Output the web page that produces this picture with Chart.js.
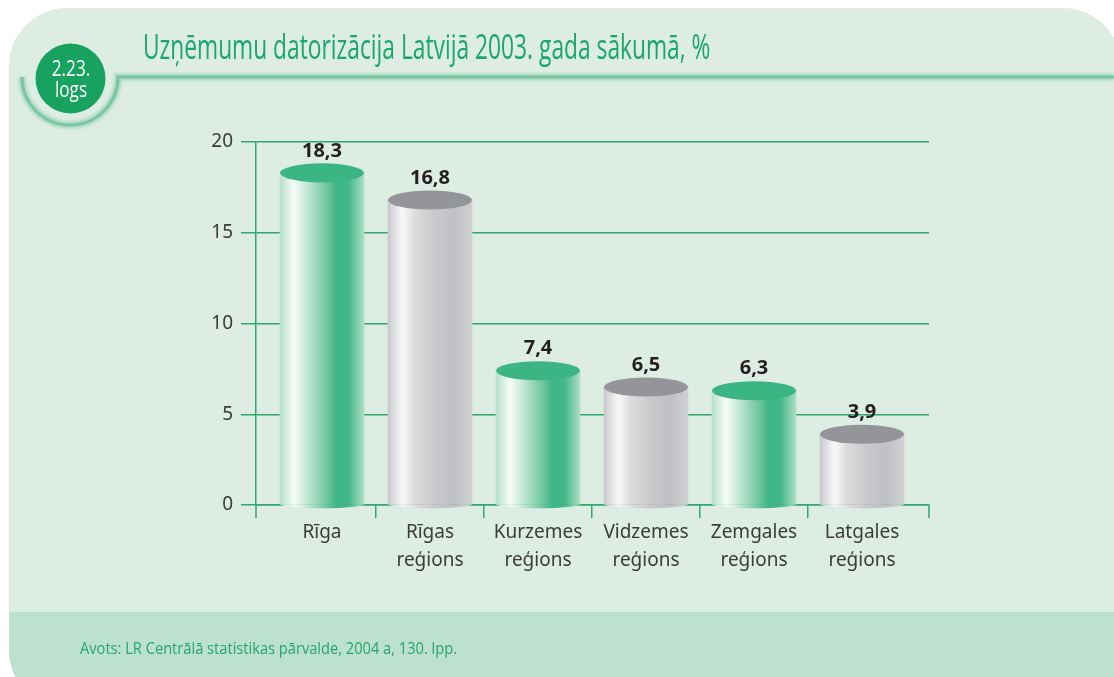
<!DOCTYPE html>
<html>
<head>
<meta charset="utf-8">
<script src="https://cdn.jsdelivr.net/npm/chart.js@4.4.1/dist/chart.umd.min.js"></script>
<style>
  html, body { margin: 0; padding: 0; background: #fff; }
  body { width: 1114px; height: 677px; overflow: hidden; position: relative; }
  #panel { position: absolute; left: 9px; top: 8px; width: 1112px; height: 700px;
           background: #ddede3; border-radius: 58px; overflow: hidden; }
  #foot { position: absolute; left: 0; top: 604px; width: 100%; height: 120px; background: #bde1cf; }
  #deco { position: absolute; left: 0; top: 0; }
  .cond { font-family: "Open Sans", sans-serif; white-space: nowrap; position: absolute; transform-origin: 0 0; }
  #title { left: 143px; top: 23px; font-size: 34px; color: #1ba66b; transform: scaleX(0.67); }
  #badge { left: 36px; top: 57px; width: 70px; text-align: center; color: #fff; font-size: 22px; line-height: 21px;
           transform-origin: 50% 0; transform: scaleX(0.78); }
  #source { left: 80px; top: 637px; font-size: 16px; color: #25a56b; transform: scaleX(0.915); }
  #wrap { position: absolute; left: 0; top: 0; width: 1114px; height: 677px; }
</style>
</head>
<body>
<div id="panel"><div id="foot"></div></div>
<svg id="deco" width="1114" height="677">
  <defs><filter id="soft"><feGaussianBlur stdDeviation="1.6"/></filter></defs>
  <path d="M22 77 A48 48 0 0 0 118 77 L1114 77" fill="none" stroke="#a7d8c0" stroke-width="7" filter="url(#soft)"/>
  <path d="M22 77 A48 48 0 0 0 118 77 L1114 77" fill="none" stroke="#7cc5a3" stroke-width="3"/>
  <circle cx="70.5" cy="78.5" r="35" fill="#17a25f"/>
</svg>
<div id="title" class="cond">Uzņēmumu datorizācija Latvijā 2003. gada sākumā, %</div>
<div id="badge" class="cond">2.23.<br>logs</div>
<div id="source" class="cond">Avots: LR Centrālā statistikas pārvalde, 2004 a, 130. lpp.</div>
<div id="wrap"><canvas id="chart" width="1114" height="677"></canvas></div>

<script>
const categories = [['Rīga'], ['Rīgas', 'reģions'], ['Kurzemes', 'reģions'], ['Vidzemes', 'reģions'], ['Zemgales', 'reģions'], ['Latgales', 'reģions']];
const values = [18.3, 16.8, 7.4, 6.5, 6.3, 3.9];
const valueLabels = ['18,3', '16,8', '7,4', '6,5', '6,3', '3,9'];
const yTicks = [0, 5, 10, 15, 20];
const barKinds = ['green', 'grey', 'green', 'grey', 'green', 'grey'];

const gridGreen = '#2ea86e';
const stops = {
    green: [[0, '#b7e1ca'], [0.17, '#f7fcf9'], [0.32, '#c3e7d4'], [0.55, '#70c7a0'], [0.68, '#3db586'], [0.82, '#45b88a'], [1, '#acdec4']],
    grey:  [[0, '#c8c9cc'], [0.17, '#f8f8f9'], [0.32, '#dcdcde'], [0.55, '#cacacd'], [0.78, '#bfc0c3'], [1, '#d0d1d3']]
};
const capColor = { green: '#3cb585', grey: '#939598' };

function cylinderFill(ctx, cx, half, kind) {
    const g = ctx.createLinearGradient(cx - half, 0, cx + half, 0);
    stops[kind].forEach(s => g.addColorStop(s[0], s[1]));
    return g;
}

const cylinders = {
    id: 'cylinders',
    afterDatasetsDraw(chart) {
        const ctx = chart.ctx;
        const meta = chart.getDatasetMeta(0);
        meta.data.forEach((bar, i) => {
            const half = bar.width / 2;
            const kind = barKinds[i];
            ctx.save();
            // rounded bottom
            ctx.fillStyle = cylinderFill(ctx, bar.x, half, kind);
            ctx.beginPath();
            ctx.ellipse(bar.x, bar.base, half, 4, 0, 0, Math.PI);
            ctx.fill();
            // top
            ctx.fillStyle = capColor[kind];
            ctx.beginPath();
            ctx.ellipse(bar.x, bar.y, half, 9.5, 0, 0, Math.PI * 2);
            ctx.fill();
            // value
            ctx.fillStyle = '#231f20';
            ctx.font = 'bold 20px "Open Sans", sans-serif';
            ctx.textAlign = 'center';
            ctx.textBaseline = 'middle';
            ctx.fillText(valueLabels[i], bar.x, bar.y - 22);
            ctx.restore();
        });
    }
};

// tick marks at both ends of the x axis
const axisEnds = {
    id: 'axisEnds',
    afterDraw(chart) {
        const a = chart.chartArea;
        const ctx = chart.ctx;
        ctx.save();
        ctx.strokeStyle = gridGreen;
        ctx.lineWidth = 1.5;
        ctx.beginPath();
        ctx.moveTo(a.left, a.bottom);
        ctx.lineTo(a.left, a.bottom + 13);
        ctx.moveTo(a.right, a.bottom);
        ctx.lineTo(a.right, a.bottom + 13);
        ctx.stroke();
        ctx.restore();
    }
};

Chart.defaults.font.family = '"Noto Sans", sans-serif';
Chart.defaults.color = '#3b3b3b';

new Chart(document.getElementById('chart'), {
    type: 'bar',
    data: {
        labels: categories,
        datasets: [{
            data: values,
            barThickness: 84,
            backgroundColor: function(c) {
                const chart = c.chart;
                if (!chart.chartArea || c.dataIndex === undefined) return '#cccccc';
                const cx = chart.scales.x.getPixelForValue(c.dataIndex);
                return cylinderFill(chart.ctx, cx, 42, barKinds[c.dataIndex]);
            },
            borderWidth: 0
        }]
    },
    options: {
        responsive: false,
        animation: false,
        layout: { padding: { left: 0, right: 185, top: 142, bottom: 60 } },
        plugins: { legend: { display: false }, tooltip: { enabled: false } },
        scales: {
            x: {
                afterBuildTicks: function(scale) {
                    // bars sit 108px apart, first one 66px right of the y axis
                    scale._startValue = -0.611;
                    scale._valueRange = 6.2315;
                },
                afterFit: function(scale) { scale.height = 112; },
                grid: {
                    drawOnChartArea: false,
                    tickLength: 13,
                    lineWidth: 1.5,
                    color: c => (c.index === undefined || c.index === 0 || c.index >= categories.length) ? 'rgba(0,0,0,0)' : gridGreen
                },
                border: { color: gridGreen, width: 1.5 },
                ticks: { font: { size: 19, lineHeight: 1.5 }, padding: 0, maxRotation: 0, autoSkip: false, color: '#3b3b3b' }
            },
            y: {
                min: 0,
                max: 20,
                afterFit: function(scale) { scale.width = 256; },
                afterBuildTicks: function(scale) { scale.ticks = yTicks.map(v => ({ value: v })); },
                grid: { color: gridGreen, lineWidth: 1.5, tickLength: 15 },
                border: { color: gridGreen, width: 1.5 },
                ticks: { font: { size: 19 }, padding: 8, color: '#3b3b3b' }
            }
        }
    },
    plugins: [cylinders, axisEnds]
});
</script>
</body>
</html>
